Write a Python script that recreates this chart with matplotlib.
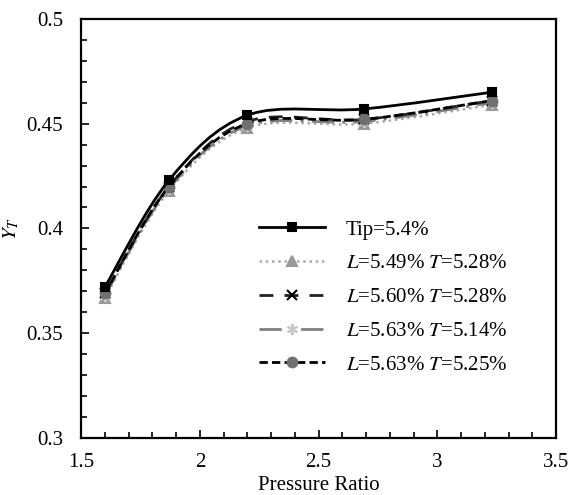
import numpy as np
import matplotlib
matplotlib.use("Agg")
import matplotlib.pyplot as plt
from matplotlib.path import Path
from matplotlib.patches import PathPatch
from matplotlib.lines import Line2D
from matplotlib.ticker import MultipleLocator, FuncFormatter

plt.rcParams["font.family"] = ["Liberation Serif", "DejaVu Serif"]
plt.rcParams["mathtext.fontset"] = "stix"

pressure_ratio = [1.6, 1.87, 2.2, 2.69, 3.23]
tip = [0.372, 0.423, 0.454, 0.457, 0.465]
l549_t528 = [0.367, 0.418, 0.448, 0.450, 0.459]
l560_t528 = [0.369, 0.420, 0.451, 0.452, 0.461]
l563_t514 = [0.368, 0.419, 0.449, 0.451, 0.460]
l563_t525 = [0.369, 0.420, 0.450, 0.452, 0.461]

labels = ["Tip=5.4%",
          r"$\it{L}$=5.49% $\it{T}$=5.28%",
          r"$\it{L}$=5.60% $\it{T}$=5.28%",
          r"$\it{L}$=5.63% $\it{T}$=5.14%",
          r"$\it{L}$=5.63% $\it{T}$=5.25%"]

styles = [
    dict(color="black", lw=2.0, ls="-", marker="s", mfc="black", mec="black", ms=6, z=6),
    dict(color="#aaaaaa", lw=1.8, ls=(0, (1, 1.5)), marker="^", mfc="#999999", mec="#999999", ms=7, z=2),
    dict(color="#222222", lw=2.0, ls=(0, (5, 4)), marker="x", mfc="black", mec="black", ms=7, z=4),
    dict(color="#808080", lw=2.0, ls=(0, (8, 3, 1, 3)), marker=(6, 2, 0), mfc="#c8c8c8", mec="#c8c8c8", ms=8, z=3),
    dict(color="black", lw=2.0, ls=(0, (3, 1.5)), marker="o", mfc="#707070", mec="#707070", ms=7, z=5),
]
series = [tip, l549_t528, l560_t528, l563_t514, l563_t525]


def smooth_path(xs, ys):
    # Excel-style smoothed line: cubic Bezier through the points
    pts = np.column_stack([xs, ys])
    n = len(pts)
    verts = [pts[0]]
    codes = [Path.MOVETO]
    for i in range(n - 1):
        p0 = pts[i - 1] if i > 0 else pts[i]
        p1 = pts[i]
        p2 = pts[i + 1]
        p3 = pts[i + 2] if i + 2 < n else pts[i + 1]
        c1 = p1 + (p2 - p0) / 6.0
        c2 = p2 - (p3 - p1) / 6.0
        verts += [c1, c2, p2]
        codes += [Path.CURVE4] * 3
    return Path(verts, codes)


fig = plt.figure(figsize=(5.71, 4.95), dpi=100)
ax = fig.add_axes([0.142, 0.115, 0.832, 0.847])

handles = []
for ys, st, lab in zip(series, styles, labels):
    patch = PathPatch(smooth_path(pressure_ratio, ys), facecolor="none",
                      edgecolor=st["color"], lw=st["lw"], linestyle=st["ls"],
                      zorder=st["z"])
    ax.add_patch(patch)
    ax.plot(pressure_ratio, ys, linestyle="none", marker=st["marker"],
            mfc=st["mfc"], mec=st["mec"], ms=st["ms"], mew=1.5, zorder=st["z"] + 0.5)
    handles.append(Line2D([], [], color=st["color"], lw=st["lw"], linestyle=st["ls"],
                          marker=st["marker"], mfc=st["mfc"], mec=st["mec"],
                          ms=st["ms"], mew=1.5, label=lab))

ax.set_xlim(1.5, 3.5)
ax.set_ylim(0.3, 0.5)
ax.xaxis.set_major_locator(MultipleLocator(0.5))
ax.xaxis.set_minor_locator(MultipleLocator(0.1))
ax.yaxis.set_major_locator(MultipleLocator(0.05))
ax.yaxis.set_minor_locator(MultipleLocator(0.01))
ax.xaxis.set_major_formatter(FuncFormatter(lambda v, p: f"{v:g}"))
ax.yaxis.set_major_formatter(FuncFormatter(lambda v, p: f"{v:g}"))
ax.tick_params(which="both", direction="in", labelsize=15, width=1.2)
ax.tick_params(which="major", length=6)
ax.tick_params(which="minor", length=4)
ax.tick_params(axis="y", which="major", pad=13)
ax.tick_params(axis="x", which="major", pad=11)
for sp in ax.spines.values():
    sp.set_linewidth(1.6)

ax.set_xlabel("Pressure Ratio", fontsize=15, labelpad=2.5)
ax.set_ylabel(r"$\it{Y_T}$", fontsize=15, labelpad=4)

ax.legend(handles=handles, loc="upper left", bbox_to_anchor=(0.356, 0.540),
          borderaxespad=0, frameon=False, fontsize=15, handlelength=3.2,
          labelspacing=0.68, handletextpad=1.0)

fig.savefig("out.png", dpi=100)
